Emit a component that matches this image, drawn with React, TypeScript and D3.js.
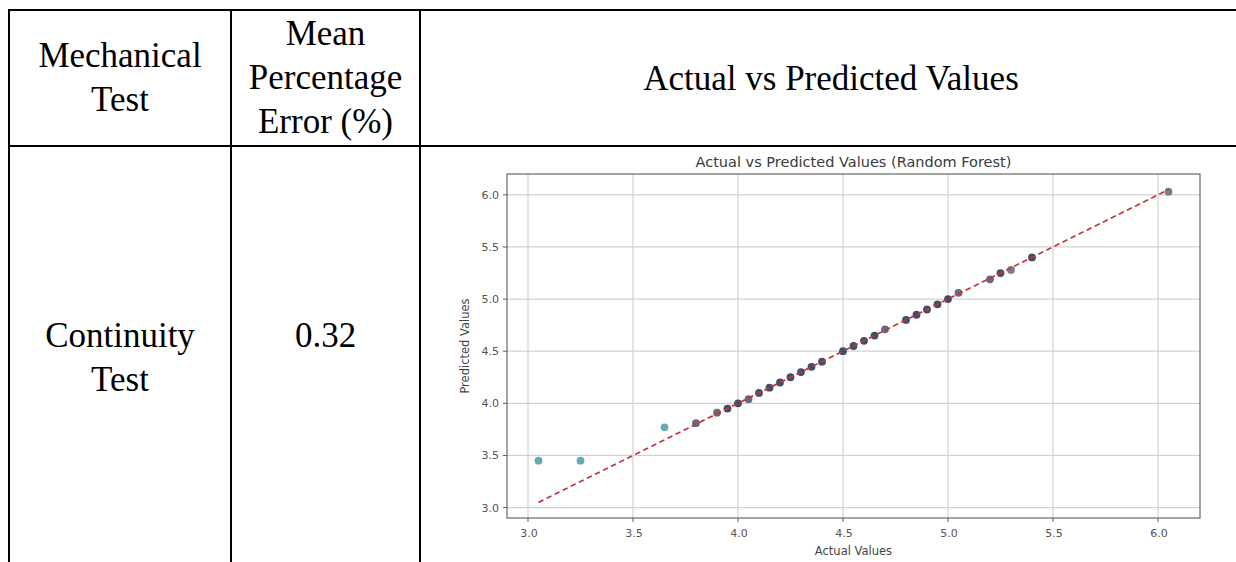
import React from "react";
import * as d3 from "d3";

// ---- table text ----
const headerCol1 = ["Mechanical", "Test"];
const headerCol2 = ["Mean", "Percentage", "Error (%)"];
const headerCol3 = ["Actual vs Predicted Values"];
const rowTestName = ["Continuity", "Test"];
const rowError = ["0.32"];

// ---- chart data ----
const actualValues = [
  3.05, 3.25, 3.65, 3.8, 3.9, 3.95, 4.0, 4.05, 4.1, 4.15, 4.2, 4.25, 4.3, 4.35, 4.4,
  4.5, 4.55, 4.6, 4.65, 4.7, 4.8, 4.85, 4.9, 4.95, 5.0, 5.05, 5.2, 5.25, 5.3, 5.4, 6.05,
];
const predictedValues = [
  3.45, 3.45, 3.77, 3.81, 3.91, 3.95, 4.0, 4.04, 4.1, 4.15, 4.2, 4.25, 4.3, 4.35, 4.4,
  4.5, 4.55, 4.6, 4.65, 4.71, 4.8, 4.85, 4.9, 4.95, 5.0, 5.06, 5.19, 5.25, 5.28, 5.4, 6.03,
];
const xTicks = [3.0, 3.5, 4.0, 4.5, 5.0, 5.5, 6.0];
const yTicks = [3.0, 3.5, 4.0, 4.5, 5.0, 5.5, 6.0];
const chartTitle = "Actual vs Predicted Values (Random Forest)";
const xLabel = "Actual Values";
const yLabel = "Predicted Values";

const W = 1236;
const H = 562;
const serif = "'Liberation Serif', 'Times New Roman', serif";
const sans = "'DejaVu Sans', sans-serif";

export default function App() {
  const [aMin, aMax] = d3.extent(actualValues) as [number, number];
  const lo = Math.min(aMin, d3.min(predictedValues) as number);
  const hi = Math.max(aMax, d3.max(predictedValues) as number);
  const pad = (hi - lo) * 0.05;

  const plot = { left: 507, right: 1200, top: 174, bottom: 518 };
  const x = d3.scaleLinear().domain([lo - pad, hi + pad]).range([plot.left, plot.right]);
  const y = d3.scaleLinear().domain([lo - pad, hi + pad]).range([plot.bottom, plot.top]);

  const color = d3
    .scaleLinear<string>()
    .domain([0, 0.015, 0.1])
    .range(["#3a4262", "#6f7488", "#5fa6aa"])
    .clamp(true);

  const pts = actualValues.map((a, i) => ({ a, p: predictedValues[i] }));
  const line = d3
    .line<number>()
    .x((d) => x(d))
    .y((d) => y(d));

  const fmt = d3.format(".1f");
  const tableLine = { stroke: "#000", strokeWidth: 2 };

  return (
    <div style={{ position: "fixed", left: 0, top: 0, width: W, height: H, background: "#fff" }}>
      <svg width={W} height={H} style={{ display: "block" }}>
        <rect x={0} y={0} width={W} height={H} fill="#fff" />

        {/* table grid */}
        <line x1={9} y1={10} x2={W} y2={10} {...tableLine} />
        <line x1={9} y1={146} x2={W} y2={146} {...tableLine} />
        <line x1={9} y1={9} x2={9} y2={H} {...tableLine} />
        <line x1={231} y1={9} x2={231} y2={H} {...tableLine} />
        <line x1={420} y1={9} x2={420} y2={H} {...tableLine} />

        {/* table text */}
        <g fontFamily={serif} fontSize={35} fill="#000" textAnchor="middle">
          {headerCol1.map((t, i) => (
            <text key={"h1" + i} x={120} y={67 + i * 44}>{t}</text>
          ))}
          {headerCol2.map((t, i) => (
            <text key={"h2" + i} x={325.5} y={45 + i * 44}>{t}</text>
          ))}
          {headerCol3.map((t, i) => (
            <text key={"h3" + i} x={831} y={90 + i * 44}>{t}</text>
          ))}
          {rowTestName.map((t, i) => (
            <text key={"r1" + i} x={120} y={347 + i * 44}>{t}</text>
          ))}
          {rowError.map((t, i) => (
            <text key={"r2" + i} x={325.5} y={347 + i * 44}>{t}</text>
          ))}
        </g>

        {/* chart */}
        <g>
          {/* grid */}
          {xTicks.map((t) => (
            <line key={"gx" + t} x1={x(t)} x2={x(t)} y1={plot.top} y2={plot.bottom} stroke="#d2d2d2" strokeWidth={1.2} />
          ))}
          {yTicks.map((t) => (
            <line key={"gy" + t} x1={plot.left} x2={plot.right} y1={y(t)} y2={y(t)} stroke="#d2d2d2" strokeWidth={1.2} />
          ))}

          {/* points */}
          {pts.map((d, i) => (
            <circle
              key={"p" + i}
              cx={x(d.a)}
              cy={y(d.p)}
              r={3.9}
              fill={color(Math.abs(d.p - d.a))}
              opacity={0.95}
            />
          ))}

          {/* ideal line */}
          <path
            d={line([aMin, aMax]) || ""}
            fill="none"
            stroke="#c83434"
            strokeWidth={1.7}
            strokeDasharray="5.5,3.5"
          />

          {/* spines */}
          <rect
            x={plot.left}
            y={plot.top}
            width={plot.right - plot.left}
            height={plot.bottom - plot.top}
            fill="none"
            stroke="#5a5a5a"
            strokeWidth={1.1}
          />

          {/* ticks */}
          {xTicks.map((t) => (
            <g key={"tx" + t}>
              <line x1={x(t)} x2={x(t)} y1={plot.bottom} y2={plot.bottom + 4} stroke="#5a5a5a" strokeWidth={1} />
              <text x={x(t) + 1} y={plot.bottom + 19} fontFamily={sans} fontSize={11} fill="#555" textAnchor="middle">
                {fmt(t)}
              </text>
            </g>
          ))}
          {yTicks.map((t) => (
            <g key={"ty" + t}>
              <line x1={plot.left - 4} x2={plot.left} y1={y(t)} y2={y(t)} stroke="#5a5a5a" strokeWidth={1} />
              <text x={plot.left - 8} y={y(t) + 4} fontFamily={sans} fontSize={11} fill="#555" textAnchor="end">
                {fmt(t)}
              </text>
            </g>
          ))}

          {/* labels */}
          <text x={(plot.left + plot.right) / 2} y={167} fontFamily={sans} fontSize={14.5} fill="#3a3a3a" textAnchor="middle">
            {chartTitle}
          </text>
          <text x={(plot.left + plot.right) / 2} y={555} fontFamily={sans} fontSize={11.5} fill="#444" textAnchor="middle">
            {xLabel}
          </text>
          <text
            transform={`translate(469, ${(plot.top + plot.bottom) / 2}) rotate(-90)`}
            fontFamily={sans}
            fontSize={11.5}
            fill="#444"
            textAnchor="middle"
          >
            {yLabel}
          </text>
        </g>
      </svg>
    </div>
  );
}
